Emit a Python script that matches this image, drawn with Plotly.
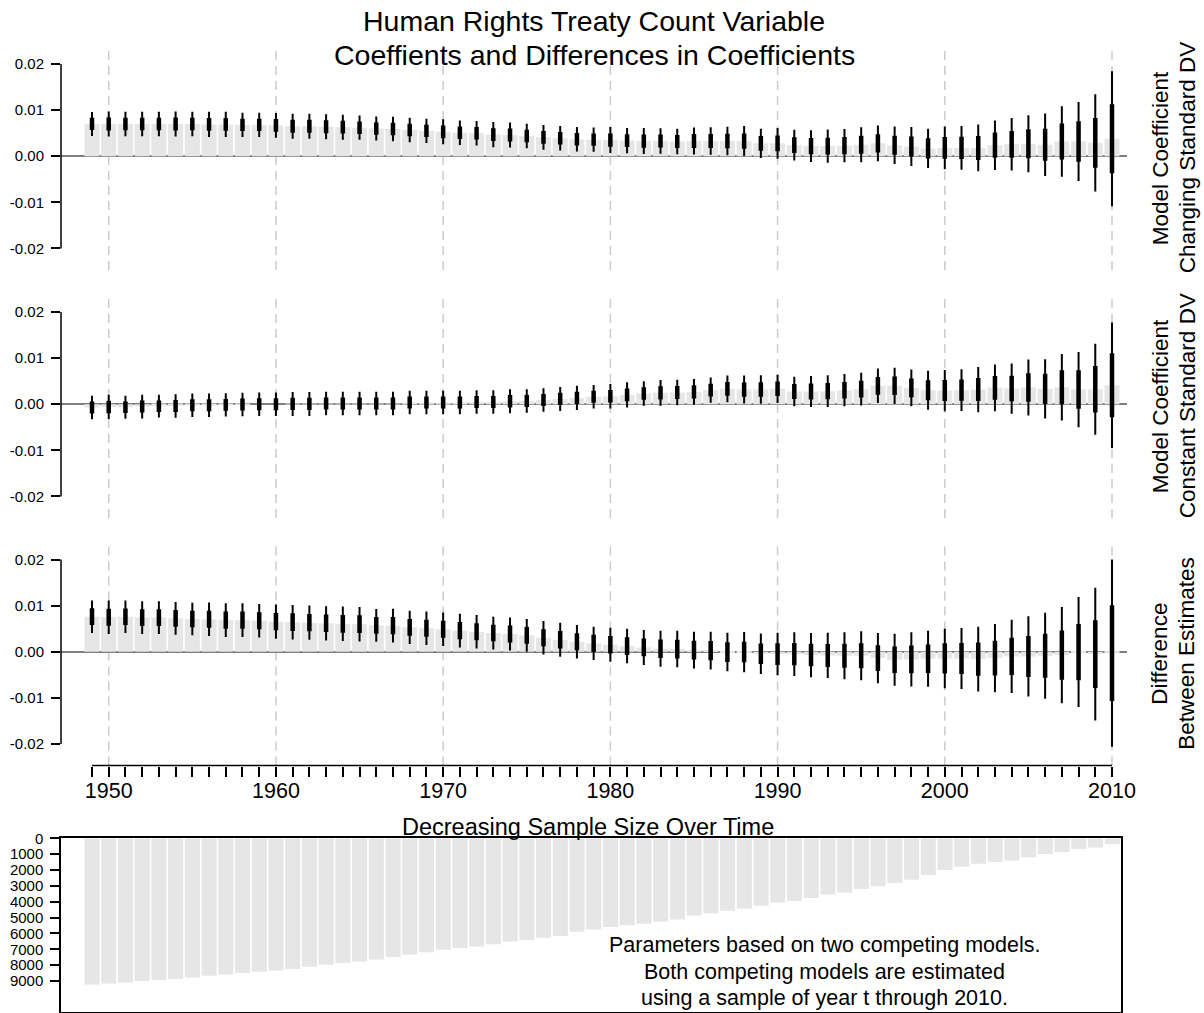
import plotly.graph_objects as go

# ---------------- data ----------------
years = list(range(1949, 2011))

# Model coefficient, changing standard DV
chg_est = [0.0070, 0.0070, 0.0070, 0.0070, 0.0070, 0.0070, 0.0070, 0.0069, 0.0069, 0.0068,
           0.0068, 0.0067, 0.0065, 0.0065, 0.0064, 0.0063, 0.0062, 0.0060, 0.0059, 0.0057,
           0.0055, 0.0053, 0.0051, 0.0050, 0.0047, 0.0046, 0.0044, 0.0041, 0.0039, 0.0037,
           0.0036, 0.0035, 0.0034, 0.0033, 0.0033, 0.0032, 0.0033, 0.0033, 0.0033, 0.0033,
           0.0028, 0.0028, 0.0024, 0.0022, 0.0022, 0.0023, 0.0025, 0.0028, 0.0024, 0.0021,
           0.0017, 0.0018, 0.0018, 0.0018, 0.0024, 0.0026, 0.0027, 0.0025, 0.0032, 0.0032,
           0.0029, 0.0038]
chg_se = [.00133, .00139, .00135, .00135, .00135, .00139, .00135, .00139, .00139, .00135,
          .00135, .00137, .00139, .00139, .00139, .00139, .00135, .00133, .00135, .00135,
          .00135, .00139, .00135, .00135, .00139, .00139, .00135, .00137, .00135, .00135,
          .00135, .00144, .00139, .00144, .00142, .00142, .00150, .00152, .00157, .00165,
          .00161, .00170, .00170, .00176, .00183, .00185, .00194, .00198, .00207, .00216,
          .00218, .00237, .00242, .00259, .00274, .00290, .00315, .00346, .00389, .00438,
          .00537, .00747]

# Model coefficient, constant standard DV
con_est = [-.00072, -.00058, -.00065, -.0005, -.00043, -.00036, -.00022, -.00022, -.00014, -.00007,
           0.0, 0.0, .00007, .00007, .00014, .00014, .00014, .00014, .00014, .00036,
           .00036, .00036, .00036, .00051, .00051, .00065, .00072, .00094, .00116, .00138,
           .0016, .00174, .00203, .00232, .00247, .00254, .00268, .00305, .00334, .00319,
           .00319, .00334, .00276, .00276, .00283, .00305, .00326, .00399, .00399, .00355,
           .00305, .00297, .00305, .00319, .00355, .00341, .00363, .00334, .0037, .00319,
           .00326, .00413]
con_se = [.0013, .00135, .00126, .00131, .00126, .0013, .0013, .0013, .00128, .0013,
          .0013, .0013, .00133, .00133, .0013, .0013, .0013, .0013, .0013, .0013,
          .0013, .0013, .0013, .0013, .0013, .00133, .0013, .0013, .00133, .00133,
          .0013, .00135, .00139, .00135, .00142, .00141, .00142, .00139, .00148, .00155,
          .00157, .00157, .00163, .00172, .00176, .00179, .00181, .00191, .002, .00204,
          .00216, .00228, .00231, .0025, .00259, .00278, .00311, .00327, .00368, .00416,
          .00503, .00694]

# Difference between estimates
dif_est = [.00761, .00747, .00758, .0074, .0074, .00725, .0071, .00703, .00685, .00685,
           .00674, .00653, .00642, .00631, .00616, .00605, .00598, .00573, .00566, .00529,
           .00508, .00486, .00457, .00435, .00406, .00384, .00355, .00305, .00261, .00218,
           .00181, .00152, .00123, .00094, .00065, .00058, .00036, .00022, -.00007, -.00007,
           -.00044, -.00051, -.00051, -.00073, -.0008, -.00087, -.00087, -.00138, -.00174, -.00167,
           -.00152, -.00145, -.00145, -.0016, -.00138, -.00102, -.00102, -.00087, -.00073, -.00007,
           -.00051, -.0003]
dif_se = [.0018, .00185, .0018, .00181, .00181, .00181, .00181, .00185, .00187, .00187,
          .00185, .00189, .00191, .00189, .00189, .00191, .00191, .00181, .00187, .00183,
          .00185, .00185, .00187, .00185, .00181, .00183, .0018, .00185, .00189, .00185,
          .00185, .00189, .00191, .00194, .002, .00202, .00204, .00209, .00213, .00222,
          .00224, .00235, .00241, .00244, .0025, .00259, .0027, .00278, .00287, .003,
          .00311, .00329, .00337, .00359, .00377, .00405, .00444, .00475, .00533, .00609,
          .00734, .01036]

# Sample size (year t through 2010)
sample_n = [9211, 9148, 9085, 9000, 8938, 8874, 8769, 8664, 8580, 8496,
            8412, 8328, 8244, 8097, 7971, 7865, 7760, 7634, 7490, 7328,
            7185, 7021, 6919, 6817, 6673, 6509, 6407, 6264, 6161, 5895,
            5752, 5588, 5486, 5384, 5240, 5118, 4872, 4729, 4565, 4422,
            4258, 4053, 3951, 3766, 3541, 3439, 3193, 3030, 2825, 2620,
            2313, 2006, 1801, 1597, 1494, 1392, 1187, 983, 880, 676,
            573, 368]

coef_ticks = [-0.02, -0.01, 0.0, 0.01, 0.02]
coef_ticktext = ["-0.02", "-0.01", "0.00", "0.01", "0.02"]
n_ticks = [0, 1000, 2000, 3000, 4000, 5000, 6000, 7000, 8000, 9000]
title_lines = ["Human Rights Treaty Count Variable",
               "Coeffients and Differences in Coefficients"]
panel_labels = [("Model Coefficient", "Changing Standard DV"),
                ("Model Coefficient", "Constant Standard DV"),
                ("Difference", "Between Estimates")]
sample_title = "Decreasing Sample Size Over Time"
note_lines = ["Parameters based on two competing models.",
              "Both competing models are estimated",
              "using a sample of year t through 2010."]

# ---------------- layout helpers ----------------
# body margin is removed in the page (post_script), so the figure fills the window
W, H = 1204, 1013
FONT = "Liberation Sans, Arial, Helvetica, sans-serif"
GRAY = "#e6e6e6"


def px_x(x):
    return x / W


def px_y(y):
    return 1 - y / H


def ydom(top_px, bot_px):
    return [px_y(bot_px), px_y(top_px)]


XDOM = [px_x(61), px_x(1127)]
XRANGE = [1947.146, 2010.897]
XDOM_N = [px_x(61), px_x(1121)]
XRANGE_N = [1947.146, 2010.52]
COEF_RANGE = [-0.02467, 0.0238]
panel_px = [(46.5, 270.0), (294.5, 518.0), (542.0, 765.5)]
decades = [y for y in years if y % 10 == 0]

fig = go.Figure()
panels = [(chg_est, chg_se), (con_est, con_se), (dif_est, dif_se)]
for i, (est, se) in enumerate(panels):
    ax = "" if i == 0 else str(i + 1)
    xa, ya = "x" + ax, "y" + ax
    fig.add_trace(go.Bar(x=years, y=est, width=0.9, marker=dict(color=GRAY, line=dict(width=0)),
                         xaxis=xa, yaxis=ya, hoverinfo="skip"))
    xs, y95, y68 = [], [], []
    for yr, e, s in zip(years, est, se):
        xs += [yr, yr, None]
        y95 += [e - 1.96 * s, e + 1.96 * s, None]
        y68 += [e - s, e + s, None]
    fig.add_trace(go.Scatter(x=xs, y=y95, mode="lines", line=dict(color="black", width=2),
                             xaxis=xa, yaxis=ya, hoverinfo="skip"))
    fig.add_trace(go.Scatter(x=xs, y=y68, mode="lines", line=dict(color="black", width=4.5),
                             xaxis=xa, yaxis=ya, hoverinfo="skip"))
    top, bot = panel_px[i]
    last = i == 2
    fig.update_layout(**{
        ("xaxis" + ax): dict(domain=XDOM, range=XRANGE, showgrid=False, zeroline=False,
                             showline=False, automargin=False,
                             anchor=ya,
                             showticklabels=last,
                             ticks="outside" if last else "",
                             tickvals=years if last else None,
                             ticktext=[str(y) if y % 10 == 0 else "" for y in years] if last else None,
                             ticklen=10, tickwidth=1.5, tickcolor="black",
                             tickfont=dict(family=FONT, size=21.5, color="black"),
                             ticklabelstandoff=-4),
        ("yaxis" + ax): dict(domain=ydom(top, bot), range=COEF_RANGE, showgrid=False,
                             zeroline=True, zerolinecolor="#7f7f7f", zerolinewidth=1.5,
                             showline=False, automargin=False, anchor=xa,
                             tickvals=coef_ticks, ticktext=coef_ticktext,
                             ticks="outside", ticklen=9, tickwidth=1.5, tickcolor="black",
                             tickfont=dict(family=FONT, size=15, color="black"),
                             ticklabelstandoff=4),
    })
    # R-style y axis line spanning the ticks only
    fig.add_shape(type="line", xref=xa + " domain", x0=0, x1=0, yref=ya,
                  y0=coef_ticks[0], y1=coef_ticks[-1], line=dict(color="black", width=1.5))
    # dashed decade guides
    for d in decades:
        fig.add_shape(type="line", xref=xa, x0=d, x1=d, yref=ya + " domain", y0=0, y1=1,
                      layer="below", line=dict(color="#cccccc", width=1.5, dash="9px,6px"))
    # right-side labels
    cy = px_y((top + bot) / 2)
    for xpx, txt in zip((1160, 1187), panel_labels[i]):
        fig.add_annotation(text=txt, xref="paper", yref="paper", x=px_x(xpx), y=cy,
                           textangle=-90, showarrow=False, xanchor="center", yanchor="middle",
                           font=dict(family=FONT, size=22.5, color="black"))

# R-style x axis line for the bottom coefficient panel
fig.add_shape(type="line", xref="x3", x0=years[0], x1=years[-1], yref="y3 domain", y0=0, y1=0,
              line=dict(color="black", width=1.5))

# ---------------- sample size panel ----------------
fig.add_trace(go.Bar(x=years, y=sample_n, width=0.9, marker=dict(color=GRAY, line=dict(width=0)),
                     xaxis="x4", yaxis="y4", hoverinfo="skip"))
fig.update_layout(
    xaxis4=dict(domain=XDOM_N, range=XRANGE_N, showgrid=False, zeroline=False, showline=True,
                mirror=True, linecolor="black", linewidth=1.5, ticks="", showticklabels=False,
                automargin=False, anchor="y4"),
    yaxis4=dict(domain=ydom(838.3, 1011.5), range=[10920, 0], showgrid=False, zeroline=False,
                showline=True, mirror=True, linecolor="black", linewidth=1.5,
                tickvals=n_ticks, ticktext=[str(v) for v in n_ticks],
                ticks="outside", ticklen=9, tickwidth=1.5, tickcolor="black",
                tickfont=dict(family=FONT, size=15, color="black"), ticklabelstandoff=4,
                automargin=False, anchor="x4"),
)

# ---------------- text ----------------
for ypx, txt in zip((21, 55), title_lines):
    fig.add_annotation(text=txt, xref="paper", yref="paper", x=px_x(594), y=px_y(ypx),
                       showarrow=False, xanchor="center", yanchor="middle",
                       font=dict(family=FONT, size=28.5, color="black"))
fig.add_annotation(text=sample_title, xref="paper", yref="paper", x=px_x(588), y=px_y(827),
                   showarrow=False, xanchor="center", yanchor="middle",
                   font=dict(family=FONT, size=23.5, color="black"))
for ypx, txt in zip((945, 971.5, 998), note_lines):
    fig.add_annotation(text=txt, xref="paper", yref="paper", x=px_x(824), y=px_y(ypx),
                       showarrow=False, xanchor="center", yanchor="middle",
                       font=dict(family=FONT, size=21.5, color="black"))

fig.update_layout(template="none", width=W, height=H, margin=dict(l=0, r=0, t=0, b=0),
                  paper_bgcolor="white", plot_bgcolor="rgba(0,0,0,0)", showlegend=False,
                  barmode="overlay", font=dict(family=FONT, color="black"))

fig.write_html("out.html",
               config={"displayModeBar": False},
               post_script="document.body.style.margin='0px';"
                           "document.documentElement.style.overflow='hidden';"
                           "document.body.style.overflow='hidden';")
